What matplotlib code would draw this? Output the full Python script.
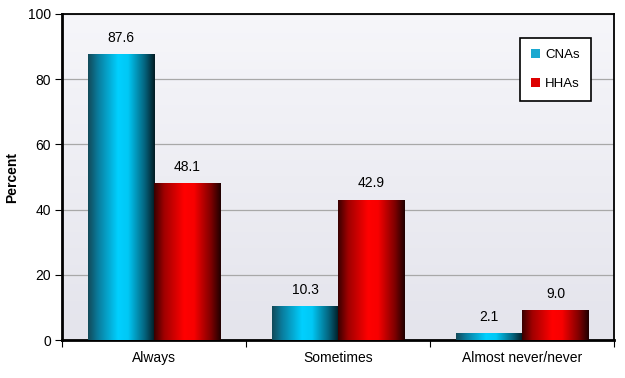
import numpy as np
import matplotlib.pyplot as plt
from matplotlib.colors import LinearSegmentedColormap

plt.rcParams["font.family"] = ["Liberation Sans", "DejaVu Sans"]

categories = ["Always", "Sometimes", "Almost never/never"]
cnas = [87.6, 10.3, 2.1]
hhas = [48.1, 42.9, 9.0]

fig = plt.figure(figsize=(6.25, 3.78), dpi=100)
ax = fig.add_axes([0.099, 0.10, 0.884, 0.863])

# plot area background
bg = LinearSegmentedColormap.from_list("bg", ["#f6f6fa", "#e4e4ec"])
ax.imshow(np.linspace(0, 1, 100).reshape(-1, 1), cmap=bg, aspect="auto",
          extent=[-0.5, 2.5, 0, 100], zorder=0)

cyan = LinearSegmentedColormap.from_list(
    "c", [(0, "#124a5a"), (0.15, "#0a7d9e"), (0.45, "#00d0ff"), (0.6, "#00c8f5"),
          (0.85, "#04647e"), (1, "#021c24")])
red = LinearSegmentedColormap.from_list(
    "r", [(0, "#3a0000"), (0.15, "#a00000"), (0.45, "#ff0000"), (0.6, "#f80000"),
          (0.85, "#800000"), (1, "#200000")])

x = np.arange(len(categories))
w = 0.36
grad = np.linspace(0, 1, 200).reshape(1, -1)
for vals, off, cmap, label, sw in [(cnas, -w / 2, cyan, "CNAs", "#1aa8d0"),
                                   (hhas, w / 2, red, "HHAs", "#dd0000")]:
    bars = ax.bar(x + off, vals, w, color=sw, label=label, zorder=2)
    for b, v in zip(bars, vals):
        ax.imshow(grad, cmap=cmap, aspect="auto", zorder=3,
                  extent=[b.get_x(), b.get_x() + b.get_width(), 0, b.get_height()])
        ax.text(b.get_x() + b.get_width() / 2, v + 3, f"{v:.1f}",
                ha="center", va="bottom", fontsize=10, zorder=4)

ax.set_xlim(-0.5, 2.5)
ax.set_ylim(0, 100)
ax.set_yticks(range(0, 101, 20))
ax.yaxis.grid(True, color="#a8a8a8", linewidth=0.9, zorder=1)
ax.set_axisbelow(True)
ax.set_xticks(x)
ax.set_xticklabels(categories, fontsize=10)
ax.set_xticks([-0.5, 0.5, 1.5, 2.5], minor=True)
ax.tick_params(axis="x", which="major", length=0, pad=8)
ax.tick_params(axis="x", which="minor", length=5, width=0.8)
ax.tick_params(axis="y", labelsize=10, length=5, width=0.8, pad=3)
ax.set_ylabel("Percent", fontsize=10, fontweight="bold", labelpad=6)
for s in ax.spines.values():
    s.set_linewidth(1.3)
ax.spines["bottom"].set_linewidth(2)
ax.spines["left"].set_linewidth(2)

leg = ax.legend(loc="upper right", bbox_to_anchor=(0.957, 0.926), borderaxespad=0,
                fontsize=9.5, handlelength=0.7, handleheight=0.7, handletextpad=0.4,
                labelspacing=1.3, borderpad=0.8, fancybox=False,
                edgecolor="black", framealpha=1)
leg.get_frame().set_linewidth(1.2)

fig.savefig("out.png", dpi=100)
